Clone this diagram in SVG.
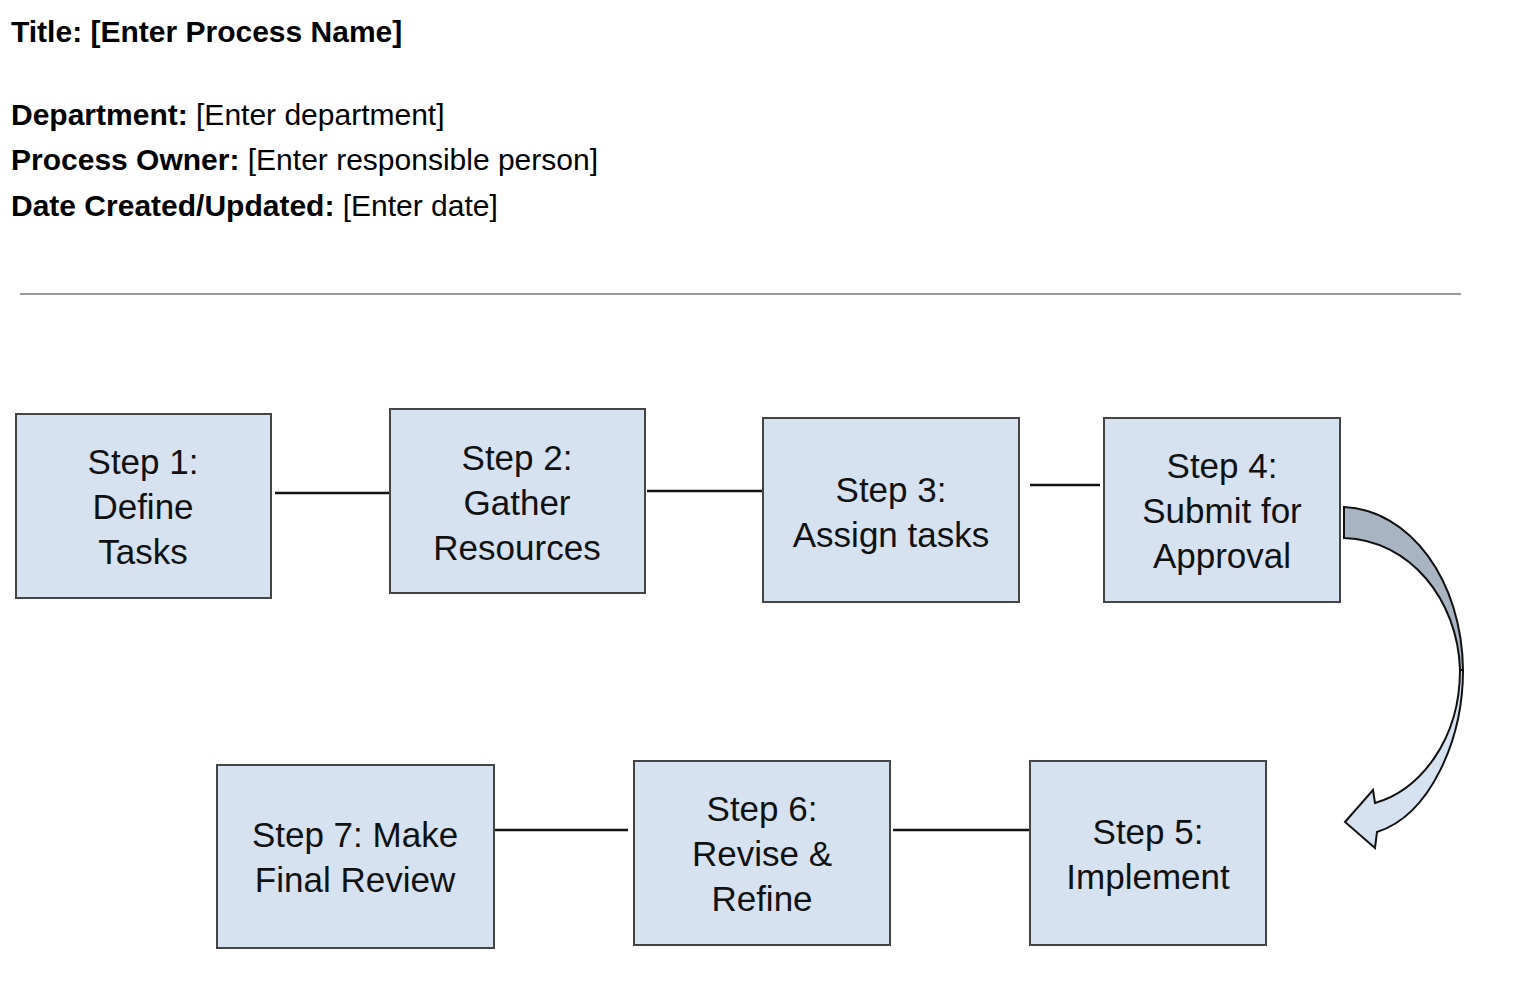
<svg xmlns="http://www.w3.org/2000/svg" width="1536" height="998" viewBox="0 0 1536 998">
<style>
text{font-family:"Liberation Sans",Arial,sans-serif;fill:#000}
.h{font-size:30px}
.b{font-weight:bold}
.box{fill:#d6e2f0;stroke:#444;stroke-width:2}
.t{font-size:35px;text-anchor:middle;fill:#111}
.c{stroke:#111;stroke-width:2.5;fill:none}
</style>
<rect width="1536" height="998" fill="#fff"/>
<g id="header">
<text class="h b" x="11" y="42">Title: [Enter Process Name]</text>
<text class="h" x="11" y="125"><tspan class="b">Department:</tspan> [Enter department]</text>
<text class="h" x="11" y="170"><tspan class="b">Process Owner:</tspan> [Enter responsible person]</text>
<text class="h" x="11" y="216"><tspan class="b">Date Created/Updated:</tspan> [Enter date]</text>
<line x1="20" y1="294" x2="1461" y2="294" stroke="#999" stroke-width="2"/>
</g>
<g id="connectors">
<line class="c" x1="275" y1="493" x2="390" y2="493"/>
<line class="c" x1="647" y1="491" x2="763" y2="491"/>
<line class="c" x1="1030" y1="485" x2="1100" y2="485" stroke-width="3.5"/>
<line class="c" x1="494" y1="830" x2="628" y2="830"/>
<line class="c" x1="893" y1="830" x2="1030" y2="830"/>
<path d="M1344,507 C1410,510 1462,580 1463,670 L1460,670 C1458,600 1410,540 1344,538 Z" fill="#a9b4c2" stroke="#111" stroke-width="2"/>
<path d="M1463,670 C1463,740 1430,815 1377,832 L1375,848 L1345,822 L1373,790 L1375,803 C1420,790 1460,740 1460,670 Z" fill="#d6e2f0" stroke="#111" stroke-width="2"/>
</g>
<g id="step1"><rect class="box" x="16" y="414" width="255" height="184"/><text class="t" x="143"><tspan x="143" y="474">Step 1:</tspan><tspan x="143" y="519">Define</tspan><tspan x="143" y="564">Tasks</tspan></text></g>
<g id="step2"><rect class="box" x="390" y="409" width="255" height="184"/><text class="t"><tspan x="517" y="470">Step 2:</tspan><tspan x="517" y="515">Gather</tspan><tspan x="517" y="560">Resources</tspan></text></g>
<g id="step3"><rect class="box" x="763" y="418" width="256" height="184"/><text class="t"><tspan x="891" y="502">Step 3:</tspan><tspan x="891" y="547">Assign tasks</tspan></text></g>
<g id="step4"><rect class="box" x="1104" y="418" width="236" height="184"/><text class="t"><tspan x="1222" y="478">Step 4:</tspan><tspan x="1222" y="523">Submit for</tspan><tspan x="1222" y="568">Approval</tspan></text></g>
<g id="step5"><rect class="box" x="1030" y="761" width="236" height="184"/><text class="t"><tspan x="1148" y="844">Step 5:</tspan><tspan x="1148" y="889">Implement</tspan></text></g>
<g id="step6"><rect class="box" x="634" y="761" width="256" height="184"/><text class="t"><tspan x="762" y="821">Step 6:</tspan><tspan x="762" y="866">Revise &amp;</tspan><tspan x="762" y="911">Refine</tspan></text></g>
<g id="step7"><rect class="box" x="217" y="765" width="277" height="183"/><text class="t"><tspan x="355" y="847">Step 7: Make</tspan><tspan x="355" y="892">Final Review</tspan></text></g>
</svg>
